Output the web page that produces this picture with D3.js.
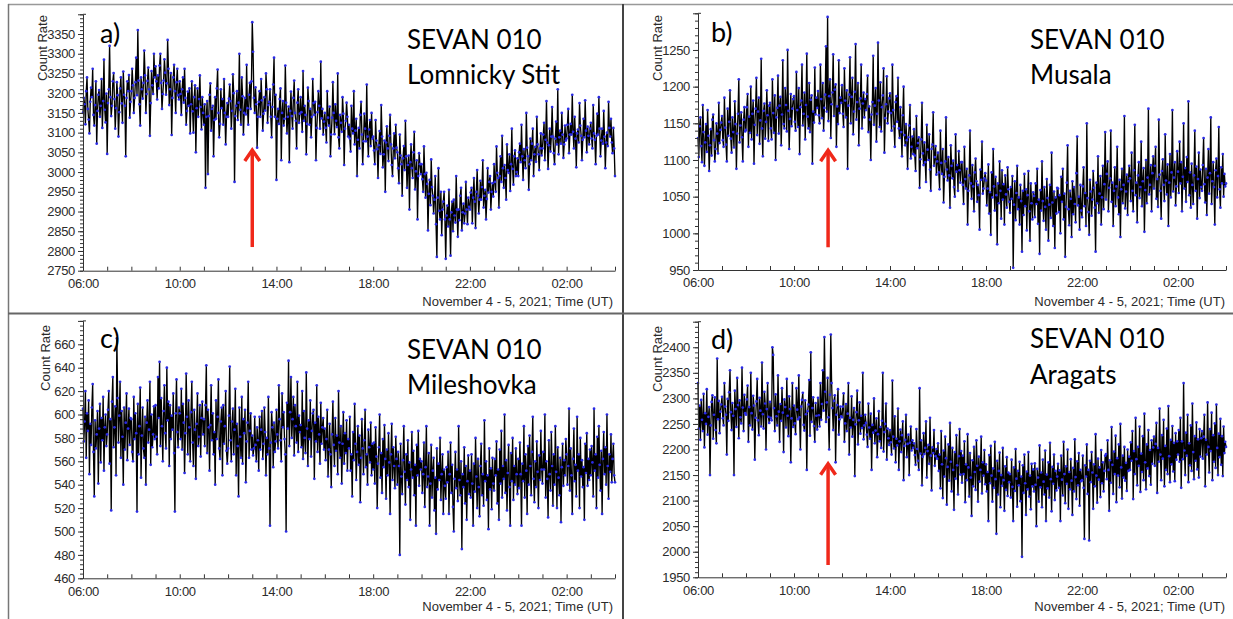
<!DOCTYPE html>
<html><head><meta charset="utf-8">
<script src="https://cdn.jsdelivr.net/npm/d3@7"></script>
<style>
body{margin:0;background:#fff}
svg{display:block}
</style>
</head><body>
<svg id="chart" width="1233" height="619"></svg>
<script>
// ---------------- DATA ----------------
const stepMinutes = 2;            // sampling step of the series below, starting 06:00
const xMajorTickLabels = ["06:00","10:00","14:00","18:00","22:00","02:00"];
const xAxisTitle = "November 4 - 5, 2021; Time (UT)";
const yAxisTitle = "Count Rate";
const panelLetters = ["a)","b)","c)","d)"];
const detectorName = "SEVAN 010";
const stationNames = ["Lomnicky Stit","Musala","Mileshovka","Aragats"];
const yDomains = [[2750,3400],[950,1300],[460,680],[1950,2450]];
const yMajorSteps = [50,50,20,50];
// arrows: [hours after 06:00, tip value, base value]
const arrowMarks = [[7.0,3061,2810],[5.42,1116,981],null,[5.42,2176,1974]];

const lomnicky = [
3150,3188,3172,3121,3205,3240,3160,3133,3098,3178,3214,3190,3262,3145,3118,3170,3230,3072,3155,3196,3208,3140,3168,3236,3112,3180,3285,3158,3126,3199,
3046,3175,3210,3320,3190,3142,3168,3230,3251,3185,3110,3162,3228,3195,3090,3152,3212,3240,3174,3125,3255,3196,3168,3040,3188,3230,3205,3246,3138,3178,
3205,3262,3220,3150,3188,3228,3290,3195,3360,3232,3172,3118,3240,3210,3186,3226,3308,3245,3150,3198,3231,3265,3210,3092,3175,3256,3220,3198,3300,3240,
3268,3230,3184,3245,3212,3270,3300,3226,3160,3198,3232,3286,3252,3196,3225,3335,3262,3170,3210,3251,3094,3188,3240,3272,3205,3150,3228,3262,3195,3184,
3230,3198,3145,3210,3240,3176,3262,3188,3120,3155,3204,3168,3212,3098,3172,3230,3154,3100,3190,3220,3050,3162,3212,3140,3185,3245,3165,3108,3190,3150,
3120,3172,2960,3140,3180,2995,3142,3196,3225,3105,3160,3168,3040,3132,3190,3135,3212,3260,3150,3088,3122,3210,3162,3185,3120,3236,3150,3070,3140,3175,
3140,3186,3222,3180,3110,3155,3248,3200,2975,3142,3168,3205,3132,3176,3300,3158,3120,3240,3192,3095,3150,3188,3146,3272,3162,3120,3196,3226,3160,3230,
3380,3305,3188,3150,3215,3172,3062,3140,3178,3205,3140,3236,3182,3105,3148,3190,3156,3250,3210,3125,3170,3178,3210,3140,3088,3165,3222,3290,3140,3196,
2980,3135,3160,3122,3185,3212,3030,3150,3180,3118,3135,3270,3176,3098,3140,3166,3025,3155,3204,3142,3110,3188,3232,3150,3130,3060,3176,3210,3125,3148,
3190,3152,3102,3256,3130,3168,3145,3045,3122,3214,3180,3120,3160,3088,3140,3236,3175,3145,3178,3030,3112,3152,3205,3168,3110,3280,3136,3160,3095,3128,
3150,3112,3075,3205,3138,3118,3166,3040,3095,3138,3228,3150,3096,3172,3130,3114,3250,3088,3060,3145,3125,3102,3190,3148,3018,3110,3130,3176,3140,3090,
3120,3085,3052,3168,3110,3098,3205,3070,3105,3135,2990,3082,3112,3060,3145,3178,3095,3020,3078,3148,3110,3078,3222,3090,3040,3108,3132,3066,3150,3085,
3090,3055,3020,3132,3080,3058,2985,3068,3104,3046,3170,3090,3012,3045,3080,2950,3075,3116,3060,3028,3092,3145,3070,3018,2990,3060,3098,3035,3120,3062,
3050,3010,2972,3095,3042,3020,2940,3035,3066,3005,3130,3040,2960,3018,3042,2905,3025,3070,3010,2985,3050,3102,2956,3002,3030,2880,2990,3048,3020,2995,
3020,2982,2950,3065,2995,2935,2998,2970,2852,2945,2980,2916,3032,2962,2940,2895,2930,2990,2868,2785,2935,3010,2902,2880,2950,2840,2905,2925,2950,2880,
2780,2890,2915,2862,2955,2880,2788,2898,2925,2850,2930,2890,2872,2990,2905,2836,2905,2878,2940,2960,2852,2898,2920,2870,2895,2975,2905,2868,2935,2912,
2905,2948,2960,2870,2935,2985,2925,2858,2950,3005,2940,2895,2930,2978,2930,2962,3030,2910,2940,2955,2880,2932,3010,2948,2975,2990,2905,2950,2972,2938,
3020,2975,2950,3065,2998,2985,2910,2990,3040,2975,3092,3010,2960,3018,2985,2930,3070,3005,2998,3045,2952,3020,3110,3008,2968,3040,3055,2990,3000,3035,
2990,3050,3072,3025,3120,3040,2980,3058,3030,3010,3150,3062,3040,2955,3020,3085,3030,3072,3110,2990,3045,3064,3026,3140,3070,3045,3005,3060,3098,3042,
3060,3095,3125,3030,3082,3180,3075,3008,3068,3110,3052,3090,3165,3090,3048,3020,3085,3128,3070,3210,3045,3088,3105,3072,3150,3095,3036,3070,3118,3080,
3085,3120,3160,3048,3095,3122,3095,3196,3102,3060,3140,3085,3012,3098,3108,3075,3175,3118,3092,3030,3082,3135,3088,3182,3105,3050,3115,3092,3070,3110,
3125,3085,3060,3170,3098,3082,3020,3092,3148,3095,3190,3110,3040,3080,3110,3072,3155,3090,3010,3075,3100,3066,3178,3112,3090,3135,3075,3048,3112,3060,
2990];

const musala = [
1130,1104,1146,1158,1119,1097,1175,1138,1092,1124,1149,1111,1168,1133,1085,1120,1142,1106,1155,1162,1127,1098,1115,1150,1136,1109,1178,1123,1141,1151,
1160,1127,1118,1185,1144,1121,1098,1170,1133,1152,1195,1129,1110,1158,1138,1117,1180,1149,1088,1136,1163,1210,1124,1147,1165,1131,1098,1155,1172,1139,
1141,1172,1190,1118,1159,1137,1200,1128,1163,1181,1095,1148,1170,1212,1134,1166,1185,1122,1154,1238,1143,1105,1167,1177,1129,1152,1195,1161,1126,1174,
1178,1143,1128,1210,1164,1137,1188,1100,1158,1171,1215,1136,1174,1186,1120,1162,1236,1149,1143,1198,1175,1139,1250,1167,1115,1156,1190,1146,1170,1183,
1187,1152,1140,1220,1168,1145,1198,1108,1172,1181,1230,1147,1163,1192,1128,1175,1245,1159,1143,1205,1138,1182,1188,1095,1166,1151,1226,1162,1185,1171,
1194,1161,1150,1230,1183,1157,1205,1140,1171,1189,1255,1166,1295,1153,1187,1210,1130,1176,1192,1244,1160,1196,1203,1118,1173,1149,1236,1164,1185,1178,
1202,1163,1145,1225,1181,1158,1195,1088,1174,1189,1240,1150,1186,1212,1135,1166,1193,1258,1155,1179,1205,1120,1170,1184,1230,1143,1177,1192,1158,1183,
1168,1190,1215,1138,1173,1155,1100,1162,1179,1242,1148,1174,1198,1125,1163,1260,1181,1145,1206,1139,1172,1188,1225,1110,1157,1176,1214,1150,1166,1184,
1191,1164,1140,1230,1168,1146,1118,1179,1187,1152,1212,1143,1130,1172,1138,1105,1161,1200,1134,1120,1149,1127,1088,1131,1147,1175,1102,1118,1132,1108,
1142,1106,1085,1160,1116,1123,1131,1062,1101,1128,1178,1109,1093,1124,1097,1070,1148,1114,1100,1135,1087,1058,1115,1121,1165,1092,1104,1119,1080,1098,
1110,1083,1060,1140,1096,1081,1115,1042,1077,1098,1158,1087,1072,1104,1079,1035,1120,1092,1075,1099,1063,1050,1135,1084,1093,1058,1112,1086,1069,1097,
1097,1066,1040,1118,1074,1061,1088,1012,1058,1079,1140,1068,1047,1093,1064,1030,1083,1102,1071,1043,1066,1052,1005,1087,1073,1125,1054,1061,1075,1082,
1072,1038,1061,1094,1027,1056,998,1083,1049,1115,1064,1031,1077,1052,985,1068,1041,1098,1058,1020,1086,1046,1067,1012,1079,1053,1035,1090,1060,1043,
1028,1063,1047,1078,953,1039,1071,1018,1055,1092,1033,1049,1012,1066,1044,975,1058,1025,1081,1037,1060,1004,1052,1085,1030,990,1068,1041,1019,1056,
1051,1022,1068,1040,1088,1013,1046,972,1059,1031,1098,1044,1017,1063,1036,1005,1074,1048,990,1039,1066,1021,1110,1042,1010,1057,980,1049,1027,1062,
1061,1029,1052,1000,1077,1043,1088,1019,1054,968,1036,1069,1120,1033,1011,1058,1047,995,1071,1026,1063,1040,1015,1082,1132,1038,1050,1005,1066,1031,
1022,1064,1090,1037,1055,1010,1150,1048,1029,998,1073,1057,1024,1046,1085,1062,1035,975,1069,1041,1105,1028,1054,1078,1012,1049,1092,1033,1067,1138,
1046,1081,1098,1030,1062,1075,1140,1043,1069,1010,1058,1090,1037,1064,1118,1049,1026,1073,995,1060,1088,1041,1066,1160,1034,1057,1080,1025,1071,1092,
1075,1044,1110,1058,1030,1086,1148,1052,1069,1015,1079,1097,1048,1063,1125,1037,1071,1089,1002,1059,1100,1041,1076,1170,1053,1066,1093,1030,1082,1105,
1061,1092,1118,1047,1074,1036,1155,1080,1058,1020,1085,1101,1066,1044,1135,1072,1053,1094,1010,1069,1108,1049,1083,1168,1057,1076,1097,1038,1064,1112,
1084,1055,1125,1068,1097,1030,1077,1150,1061,1089,1043,1104,1070,1180,1052,1083,1035,1095,1066,1040,1079,1140,1058,1091,1020,1074,1110,1048,1087,1063,
1058,1093,1130,1067,1042,1088,1025,1076,1115,1054,1082,1158,1040,1071,1097,1063,1012,1086,1102,1049,1078,1145,1060,1035,1090,1068,1108,1050,1081,1064,
1068];

const mileshovka = [
605,577,594,620,563,601,586,612,549,592,574,606,626,568,530,595,571,583,603,541,588,609,559,597,578,615,552,589,600,573,
583,604,620,558,596,518,611,632,572,589,607,548,665,614,576,599,628,563,603,581,540,606,570,593,618,561,588,605,574,597,
596,568,560,615,579,601,584,517,609,566,590,623,546,582,606,571,563,598,540,593,612,576,587,628,557,600,572,583,607,579,
608,581,566,632,597,645,573,614,590,560,603,625,584,571,640,595,611,556,608,579,599,587,618,567,517,601,630,585,572,606,
601,579,622,570,609,593,550,584,635,598,566,612,589,560,602,628,576,556,604,587,545,592,618,573,581,608,564,597,611,583,
596,573,608,642,567,604,589,552,591,625,578,601,566,585,540,612,579,598,630,571,562,594,606,548,608,575,590,620,569,558,
571,599,641,578,560,594,605,566,587,622,548,592,573,530,606,581,563,615,558,596,584,604,542,577,593,628,563,586,601,570,
582,565,571,598,574,560,589,578,552,598,570,587,603,562,575,606,585,548,580,566,615,571,505,576,602,589,555,593,568,577,
604,583,571,625,596,578,560,618,589,602,579,566,500,610,588,646,573,602,632,580,596,615,565,608,590,576,628,568,599,585,
591,572,620,562,603,580,567,636,588,556,595,579,612,564,586,601,604,545,593,577,625,568,598,583,558,610,575,589,597,570,
588,561,579,604,547,570,592,566,538,583,611,574,556,597,569,582,549,620,576,563,590,541,575,602,558,584,567,595,552,579,
571,598,552,566,530,585,561,609,575,544,568,590,557,582,525,563,596,571,549,578,604,555,566,540,587,572,559,593,548,575,
553,576,541,589,564,520,558,572,600,546,567,533,579,555,591,562,528,570,548,584,559,515,566,592,544,572,556,537,581,562,
540,568,556,480,575,547,532,561,590,551,523,566,544,578,538,559,510,553,585,546,569,531,557,505,574,548,586,539,562,553,
560,533,549,576,521,555,590,538,547,567,505,541,574,529,552,563,518,546,498,571,536,558,544,580,527,549,566,515,553,539,
528,555,542,568,515,549,576,533,557,521,500,545,568,537,553,526,590,544,531,560,485,549,538,572,524,556,510,543,565,532,
552,529,566,541,505,558,534,580,547,520,562,538,513,556,575,531,549,522,595,543,560,527,548,502,571,536,554,519,563,541,
535,562,548,577,524,553,510,570,541,586,529,556,545,600,533,561,518,550,574,538,505,567,543,580,527,556,540,571,549,532,
562,537,576,549,505,558,543,590,529,566,552,515,573,540,582,556,531,568,598,545,525,560,538,577,551,520,565,544,586,553,
541,568,553,600,529,560,545,512,578,549,535,585,556,522,566,540,590,551,520,572,546,531,563,508,555,575,539,561,548,579,
566,540,556,605,535,571,548,515,562,588,543,557,530,598,552,566,520,580,547,561,538,555,510,575,550,584,539,562,544,570,
548,573,559,530,605,552,566,520,581,546,590,557,535,569,515,562,585,549,572,540,600,556,528,566,551,583,542,562,575,548,
542];

const aragats = [
2330,2241,2286,2219,2297,2258,2236,2309,2204,2271,2250,2318,2229,2264,2283,2150,2247,2293,2306,2221,2268,2302,2238,2212,2378,2259,2295,2232,2274,2288,
2303,2261,2247,2330,2284,2268,2190,2299,2256,2312,2355,2273,2238,2291,2266,2150,2315,2279,2244,2340,2287,2222,2296,2263,2251,2360,2282,2236,2307,2271,
2268,2298,2325,2215,2283,2247,2350,2271,2239,2305,2286,2180,2262,2294,2338,2257,2228,2301,2276,2245,2370,2269,2241,2313,2290,2200,2279,2330,2264,2252,
2293,2262,2257,2400,2385,2281,2236,2308,2265,2247,2345,2274,2215,2289,2256,2320,2272,2195,2298,2283,2243,2338,2266,2226,2304,2279,2175,2261,2330,2244,
2286,2251,2230,2320,2278,2259,2345,2263,2200,2284,2297,2311,2248,2237,2296,2269,2160,2275,2288,2336,2227,2390,2254,2281,2302,2246,2215,2291,2266,2239,
2301,2267,2245,2330,2258,2289,2355,2276,2420,2313,2254,2292,2340,2263,2200,2307,2425,2330,2281,2238,2295,2306,2175,2268,2287,2318,2229,2259,2284,2265,
2263,2284,2310,2215,2251,2289,2236,2270,2330,2190,2262,2243,2304,2225,2258,2281,2148,2249,2273,2315,2210,2257,2292,2231,2266,2242,2350,2220,2247,2268,
2252,2229,2205,2290,2243,2221,2270,2160,2248,2233,2300,2212,2237,2261,2185,2230,2275,2216,2244,2203,2256,2350,2196,2234,2250,2290,2180,2241,2222,2209,
2238,2214,2190,2335,2225,2202,2265,2175,2221,2208,2280,2160,2216,2239,2195,2228,2255,2140,2207,2219,2268,2185,2211,2229,2150,2213,2245,2198,2218,2203,
2212,2189,2170,2240,2201,2178,2160,2320,2192,2218,2130,2186,2232,2191,2203,2255,2145,2197,2209,2172,2262,2188,2120,2204,2193,2238,2168,2187,2201,2182,
2212,2158,2190,2124,2236,2171,2105,2198,2147,2225,2183,2092,2166,2210,2139,2252,2176,2118,2203,2160,2082,2195,2143,2228,2169,2112,2187,2240,2151,2197,
2135,2188,2152,2216,2097,2171,2140,2230,2165,2108,2193,2145,2070,2179,2128,2205,2156,2121,2218,2168,2098,2186,2137,2160,2225,2114,2175,2149,2199,2132,
2171,2118,2156,2060,2189,2134,2207,2149,2098,2163,2125,2215,2142,2035,2178,2112,2158,2194,2087,2150,2129,2203,2140,2080,2167,2121,2185,2109,2155,2136,
2152,2106,2180,2127,2060,2165,2119,2201,2143,2088,2158,2130,2176,2099,2147,1990,2169,2115,2190,2134,2072,2157,2122,2195,2108,2149,2083,2172,2128,2161,
2118,2173,2131,2050,2162,2145,2098,2208,2126,2155,2087,2180,2137,2112,2198,2060,2151,2124,2175,2106,2213,2142,2079,2166,2133,2190,2101,2158,2120,2147,
2172,2125,2159,2060,2188,2141,2110,2215,2152,2095,2167,2133,2200,2084,2156,2122,2181,2139,2072,2164,2118,2220,2146,2103,2177,2130,2193,2090,2160,2138,
2140,2188,2125,2025,2169,2147,2210,2113,2160,2022,2178,2136,2195,2155,2084,2171,2128,2230,2149,2096,2182,2141,2165,2107,2199,2134,2175,2118,2158,2188,
2191,2142,2218,2160,2080,2179,2135,2244,2170,2113,2196,2152,2227,2097,2183,2149,2210,2126,2250,2165,2104,2188,2145,2205,2139,2174,2119,2200,2158,2186,
2160,2214,2178,2236,2103,2197,2152,2262,2181,2130,2205,2168,2245,2117,2192,2156,2226,2140,2270,2175,2122,2210,2163,2238,2148,2199,2131,2218,2172,2204,
2225,2168,2211,2252,2115,2203,2176,2280,2190,2140,2228,2182,2258,2128,2207,2160,2241,2152,2285,2187,2136,2219,2171,2246,2157,2213,2138,2232,2180,2216,
2190,2238,2176,2262,2125,2216,2181,2330,2198,2150,2233,2188,2268,2136,2212,2169,2247,2158,2290,2195,2142,2226,2178,2253,2161,2220,2145,2240,2186,2222,
2236,2182,2225,2268,2128,2219,2190,2292,2205,2155,2240,2197,2272,2140,2228,2176,2251,2164,2288,2203,2150,2231,2185,2260,2170,2226,2148,2245,2193,2215,
2205];

const seriesList = [lomnicky, musala, mileshovka, aragats];

// ---------------- LAYOUT ----------------
const layout = [
  {x:[83,615],  y:[270.7,14.3], title:[407,48.5,83.5], letter:[100,43], ylab:[47,48],  foot:[613,306]},
  {x:[698,1226],y:[270,13.3],   title:[1030,48.5,83.5],letter:[711,42], ylab:[662,48], foot:[1225,306]},
  {x:[83,615],  y:[578.3,320.9],title:[407,359,394],   letter:[100,348],ylab:[50,358], foot:[613,611]},
  {x:[698,1226],y:[577.3,321.7],title:[1030,348,384],  letter:[711,349],ylab:[662,359],foot:[1225,611]}
];
const FONT = "'Liberation Sans', Arial, sans-serif";
const TITLEFONT = "Lato, 'Open Sans', sans-serif";
const axisColor = "#333";
const textColor = "#2b2b2b";

const svg = d3.select("#chart");
svg.append("rect").attr("width",1233).attr("height",619).attr("fill","#fff");

// frame lines
const frame = svg.append("g").attr("fill","none");
frame.append("line").attr("x1",8).attr("x2",1233).attr("y1",4.5).attr("y2",4.5).attr("stroke","#999").attr("stroke-width",1.5);
frame.append("line").attr("x1",8.5).attr("x2",8.5).attr("y1",4).attr("y2",619).attr("stroke","#777").attr("stroke-width",1.5);
frame.append("line").attr("x1",623).attr("x2",623).attr("y1",4).attr("y2",619).attr("stroke","#444").attr("stroke-width",2);
frame.append("line").attr("x1",8).attr("x2",1233).attr("y1",313.5).attr("y2",313.5).attr("stroke","#666").attr("stroke-width",2);

const totalHours = 22;

seriesList.forEach((series, p) => {
  const L = layout[p];
  const g = svg.append("g");
  const x = d3.scaleLinear().domain([0,totalHours]).range(L.x);
  const y = d3.scaleLinear().domain(yDomains[p]).range(L.y);
  const step = yMajorSteps[p];
  const [y0,y1] = yDomains[p];

  // data line and dots
  const pts = series.map((v,i)=>[i*stepMinutes/60, v]);
  const line = d3.line().x(d=>x(d[0])).y(d=>y(d[1]));
  g.append("path").datum(pts).attr("d",line).attr("fill","none")
    .attr("stroke","#000").attr("stroke-width",1.35).attr("stroke-linejoin","bevel");
  g.append("g").selectAll("circle").data(pts).join("circle")
    .attr("cx",d=>x(d[0])).attr("cy",d=>y(d[1])).attr("r",1.35).attr("fill","#2a2ae6");

  // x axis: hourly ticks pointing up, labels every 4 h
  const xAxis = d3.axisBottom(x).tickValues(d3.range(0,totalHours+1,1))
    .tickSize(-4).tickSizeOuter(0).tickPadding(8)
    .tickFormat(h => (h%4===0 && h/4 < xMajorTickLabels.length) ? xMajorTickLabels[h/4] : "");
  g.append("g").attr("transform",`translate(0,${L.y[0]})`).call(xAxis);
  // y minor ticks
  const minorStep = step/5;
  const yMinor = d3.axisLeft(y).tickValues(d3.range(y0, y1+0.001, minorStep)).tickSize(3).tickFormat("").tickSizeOuter(0);
  g.append("g").attr("transform",`translate(${L.x[0]},0)`).call(yMinor);
  const yMajor = d3.axisLeft(y).tickValues(d3.range(y0, y1+0.001, step)).tickSize(5).tickPadding(3).tickSizeOuter(0)
    .tickFormat(v => v >= y1 ? "" : String(v));
  g.append("g").attr("transform",`translate(${L.x[0]},0)`).call(yMajor);
  g.append("line").attr("x1",L.x[0]).attr("x2",L.x[0]+3).attr("y1",y(y1)).attr("y2",y(y1)).attr("stroke",axisColor);

  g.selectAll(".domain, .tick line").attr("stroke",axisColor).attr("stroke-width",1);
  g.selectAll(".tick text").attr("font-family",FONT).attr("font-size",13).attr("fill",textColor).attr("letter-spacing","-0.3");

  g.append("text").attr("transform",`translate(${L.ylab[0]},${L.ylab[1]}) rotate(-90)`)
    .attr("text-anchor","middle").attr("font-family",FONT).attr("font-size",13).attr("fill",textColor)
    .text(yAxisTitle);
  g.append("text").attr("x",L.foot[0]).attr("y",L.foot[1]).attr("text-anchor","end")
    .attr("font-family",FONT).attr("font-size",13).attr("fill",textColor).text(xAxisTitle);

  g.append("text").attr("x",L.letter[0]).attr("y",L.letter[1]).attr("font-family",TITLEFONT)
    .attr("font-size",27).attr("fill","#000").text(panelLetters[p]);
  g.append("text").attr("x",L.title[0]).attr("y",L.title[1]).attr("font-family",TITLEFONT)
    .attr("font-size",26).attr("fill","#000").text(detectorName);
  g.append("text").attr("x",L.title[0]).attr("y",L.title[2]).attr("font-family",TITLEFONT)
    .attr("font-size",26).attr("fill","#000").text(stationNames[p]);

  const a = arrowMarks[p];
  if (a) {
    const ax = x(a[0]), tip = y(a[1]), base = y(a[2]);
    g.append("line").attr("x1",ax).attr("x2",ax).attr("y1",base).attr("y2",tip+3)
      .attr("stroke","#f0281a").attr("stroke-width",3.5);
    g.append("path").attr("d",`M${ax-7.5},${tip+13}L${ax},${tip+2}L${ax+7.5},${tip+13}`)
      .attr("fill","none").attr("stroke","#f0281a").attr("stroke-width",3.5).attr("stroke-linejoin","miter");
  }
});
</script>
</body></html>
